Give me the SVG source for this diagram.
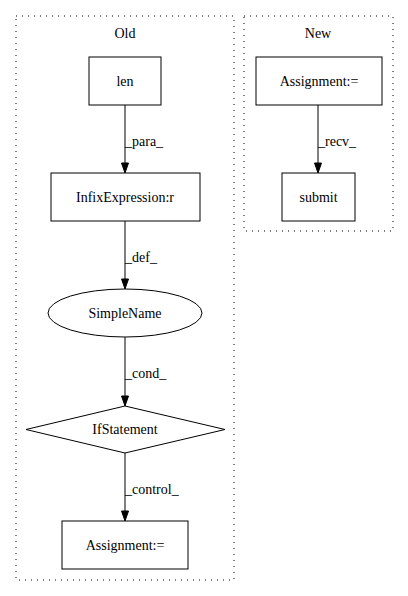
<svg xmlns="http://www.w3.org/2000/svg" width="408" height="596" viewBox="0 0 408 596">
<style>
text{font-family:"Liberation Serif","Times New Roman",serif;font-size:14px;fill:#000}
.c{text-anchor:middle}
.n{fill:none;stroke:#000;stroke-width:1}
.cl{fill:none;stroke:#000;stroke-width:1;stroke-dasharray:1,5}
.e{fill:none;stroke:#000;stroke-width:1}
.h{fill:#000;stroke:#000;stroke-width:1}
</style>
<rect width="408" height="596" fill="#fff"/>
<g id="cluster_old">
<rect class="cl" x="16" y="16" width="218" height="564"/>
<text class="c" x="125" y="38">Old</text>
</g>
<g id="cluster_new">
<rect class="cl" x="244" y="16" width="149" height="215"/>
<text class="c" x="318" y="38">New</text>
</g>
<g id="edges">
<line class="e" x1="125" y1="105" x2="125" y2="163"/>
<polygon class="h" points="121.5,163 128.5,163 125,173"/>
<text x="125" y="146">_para_</text>
<line class="e" x1="125" y1="221" x2="125" y2="279"/>
<polygon class="h" points="121.5,279 128.5,279 125,289"/>
<text x="125" y="262">_def_</text>
<line class="e" x1="125" y1="337" x2="125" y2="396"/>
<polygon class="h" points="121.5,396 128.5,396 125,406"/>
<text x="125" y="378">_cond_</text>
<line class="e" x1="125" y1="453" x2="125" y2="511"/>
<polygon class="h" points="121.5,511 128.5,511 125,521"/>
<text x="125" y="494">_control_</text>
<line class="e" x1="318" y1="105" x2="318" y2="163"/>
<polygon class="h" points="314.5,163 321.5,163 318,173"/>
<text x="318" y="146">_recv_</text>
</g>
<g id="len">
<rect class="n" x="89" y="57" width="72" height="48"/>
<text class="c" x="125" y="86">len</text>
</g>
<g id="infix">
<rect class="n" x="51" y="173" width="149" height="48"/>
<text class="c" x="125" y="202">InfixExpression:r</text>
</g>
<g id="simplename">
<ellipse class="n" cx="125" cy="313" rx="77" ry="24"/>
<text class="c" x="125" y="318">SimpleName</text>
</g>
<g id="ifstatement">
<polygon class="n" points="125,406 225,429.5 125,453 26,429.5"/>
<text class="c" x="125" y="434">IfStatement</text>
</g>
<g id="assign_old">
<rect class="n" x="62" y="521" width="126" height="48"/>
<text class="c" x="125" y="550">Assignment:=</text>
</g>
<g id="assign_new">
<rect class="n" x="256" y="57" width="126" height="48"/>
<text class="c" x="319" y="86">Assignment:=</text>
</g>
<g id="submit">
<rect class="n" x="282" y="173" width="73" height="48"/>
<text class="c" x="318.5" y="202">submit</text>
</g>
</svg>
